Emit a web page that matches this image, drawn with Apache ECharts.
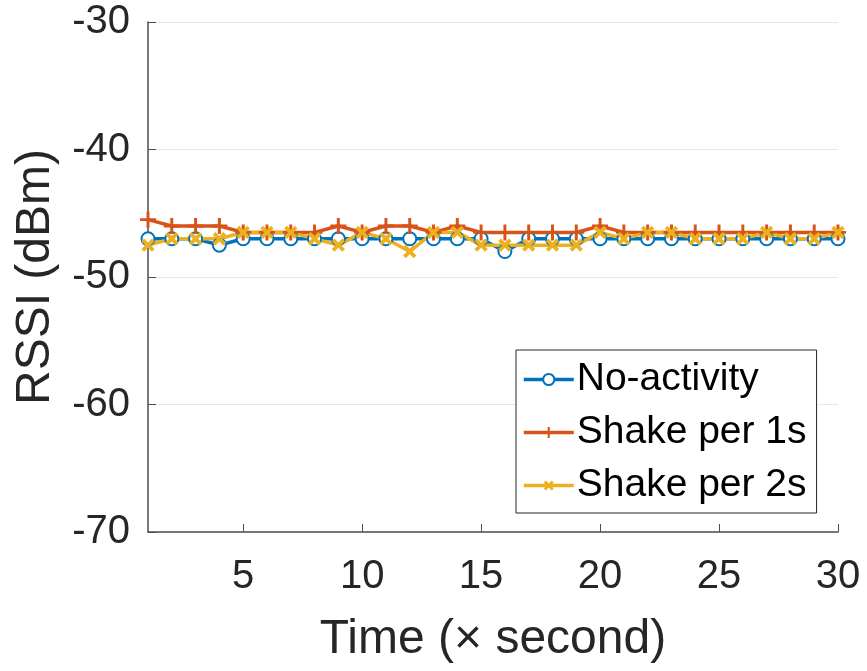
<!DOCTYPE html>
<html>
<head>
<meta charset="utf-8">
<script src="https://cdn.jsdelivr.net/npm/echarts@6/dist/echarts.min.js"></script>
<style>
  html, body { margin: 0; padding: 0; background: #fff; }
  #chart { width: 867px; height: 671px; }
</style>
</head>
<body>
<div id="chart"></div>
<script>
// time in seconds
var times = [];
for (var t = 1; t <= 30; t++) times.push(t);

var noActivity = [-47, -47, -47, -47.5, -47, -47, -47, -47, -47, -47,
                  -47, -47, -47, -47, -47, -48, -47, -47, -47, -47,
                  -47, -47, -47, -47, -47, -47, -47, -47, -47, -47];
var shake1s = [-45.5, -46, -46, -46, -46.5, -46.5, -46.5, -46.5, -46, -46.5,
               -46, -46, -46.5, -46, -46.5, -46.5, -46.5, -46.5, -46.5, -46,
               -46.5, -46.5, -46.5, -46.5, -46.5, -46.5, -46.5, -46.5, -46.5, -46.5];
var shake2s = [-47.5, -47, -47, -47, -46.5, -46.5, -46.5, -47, -47.5, -46.5,
               -47, -48, -46.5, -46.5, -47.5, -47.5, -47.5, -47.5, -47.5, -46.5,
               -47, -46.5, -46.5, -47, -47, -47, -46.5, -47, -47, -46.5];

var xTicks = [5, 10, 15, 20, 25, 30];

function pairs(ys) {
  return ys.map(function (y, i) { return [times[i], y]; });
}

var plusPath = 'path://M-1.3,-7H1.3V-1.3H7V1.3H1.3V7H-1.3V1.3H-7V-1.3H-1.3Z';
var crossPath = 'path://M-1.8,-7H1.8V-1.8H7V1.8H1.8V7H-1.8V1.8H-7V-1.8H-1.8Z';
var font = 'Liberation Sans, Arial, sans-serif';

var chart = echarts.init(document.getElementById('chart'));
chart.setOption({
  animation: false,
  textStyle: { fontFamily: font },
  grid: { left: 148, right: 29, top: 22, bottom: 139 },
  legend: {
    orient: 'vertical',
    left: 516,
    top: 350,
    padding: [10, 10, 8, 6],
    itemGap: 14,
    itemWidth: 50,
    itemHeight: 14,
    borderColor: '#262626',
    borderWidth: 1,
    backgroundColor: '#fff',
    borderRadius: 0,
    lineStyle: { width: 3.5 },
    textStyle: { fontSize: 39, color: '#000', fontFamily: font, padding: [0, 0, 0, -2] },
    data: ['No-activity', 'Shake per 1s', 'Shake per 2s']
  },
  xAxis: {
    type: 'value',
    min: 1,
    max: 30,
    name: 'Time (\u00d7 second)',
    nameLocation: 'middle',
    nameGap: 84,
    nameTextStyle: { fontSize: 48, color: '#262626' },
    axisLine: { lineStyle: { color: '#4d4d4d', width: 1.5 } },
    axisTick: { inside: true, length: 8, customValues: xTicks, lineStyle: { color: '#4d4d4d' } },
    axisLabel: { customValues: xTicks, fontSize: 40, color: '#262626', margin: 25 },
    splitLine: { show: false }
  },
  yAxis: {
    type: 'value',
    min: -70,
    max: -30,
    interval: 10,
    name: 'RSSI (dBm)',
    nameLocation: 'middle',
    nameGap: 88,
    nameTextStyle: { fontSize: 48, color: '#262626' },
    axisLine: { show: true, lineStyle: { color: '#4d4d4d', width: 1.5 } },
    axisTick: { show: true, inside: true, length: 8, lineStyle: { color: '#4d4d4d' } },
    axisLabel: { fontSize: 40, color: '#262626', margin: 18 },
    splitLine: { show: true, lineStyle: { color: '#e6e6e6', width: 1 } }
  },
  series: [
    {
      name: 'No-activity',
      type: 'line',
      data: pairs(noActivity),
      symbol: 'emptyCircle',
      symbolSize: 13,
      color: '#0072BD',
      lineStyle: { width: 3.5 },
      itemStyle: { borderWidth: 3 }
    },
    {
      name: 'Shake per 1s',
      type: 'line',
      data: pairs(shake1s),
      symbol: plusPath,
      symbolSize: 16,
      color: '#D95319',
      lineStyle: { width: 3.5 }
    },
    {
      name: 'Shake per 2s',
      type: 'line',
      data: pairs(shake2s),
      symbol: crossPath,
      symbolRotate: 45,
      symbolSize: 15,
      color: '#EDB120',
      lineStyle: { width: 3.5 }
    }
  ]
});
</script>
</body>
</html>
